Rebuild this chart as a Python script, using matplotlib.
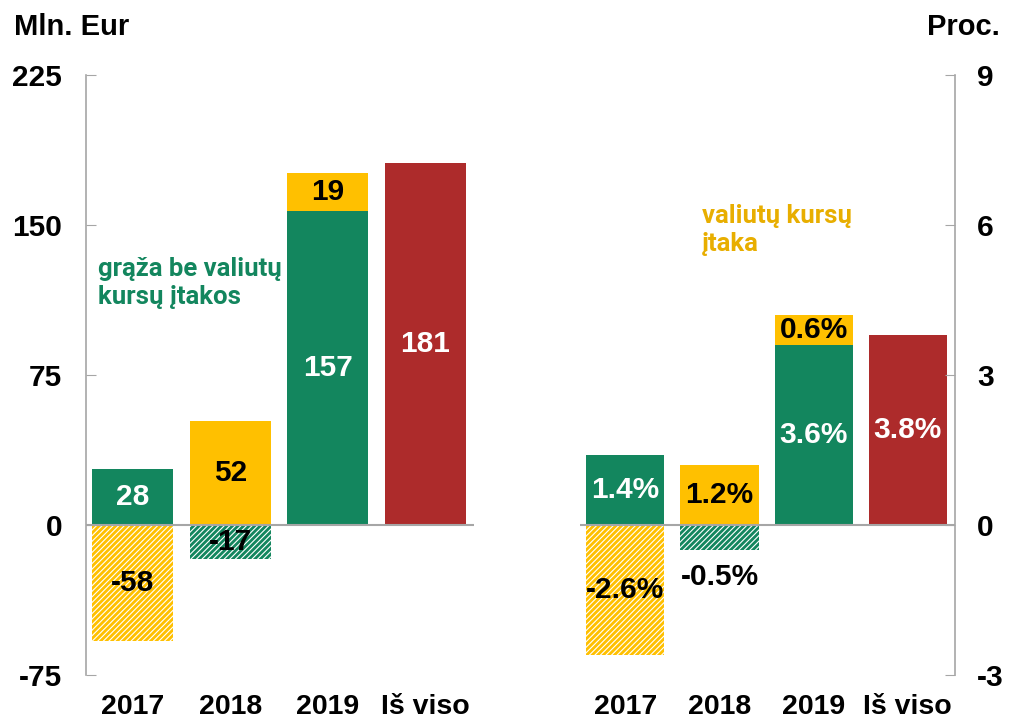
import numpy as np
import matplotlib.pyplot as plt

years = ['2017', '2018', '2019', 'Iš viso']

# Mln. Eur
eur_excl_fx = [28, -17, 157]
eur_fx = [-58, 52, 19]
eur_total = 181

# Proc.
pct_excl_fx = [1.4, -0.5, 3.6]
pct_fx = [-2.6, 1.2, 0.6]
pct_total = 3.8

green = '#13865E'
yellow = '#FFC000'
red = '#AD2B2B'
note_yellow = '#E8AE00'
spine_col = '#A6A6A6'

plt.rcParams['font.family'] = ['Liberation Sans', 'DejaVu Sans']
plt.rcParams['font.weight'] = 'bold'
plt.rcParams['axes.unicode_minus'] = False
plt.rcParams['hatch.linewidth'] = 0.8

fig = plt.figure(figsize=(10.1, 7.23), dpi=100)
ax1 = fig.add_axes([0.0851, 0.0664, 0.3842, 0.8299])
ax2 = fig.add_axes([0.5743, 0.0664, 0.3712, 0.8299])


def draw(ax, excl, fx, total, fmt, small):
    w = 0.83
    for i in range(3):
        pos, neg = 0, 0
        for v, col in ((excl[i], green), (fx[i], yellow)):
            if v >= 0:
                ax.bar(i, v, w, bottom=pos, color=col, linewidth=0)
                c = 'white' if col == green else 'black'
                ax.text(i, pos + v / 2, fmt(v), ha='center', va='center',
                        color=c, fontsize=21.5, fontweight='bold')
                pos += v
            else:
                ax.bar(i, v, w, bottom=neg, color=col, edgecolor='white',
                       hatch='//////', linewidth=0)
                y = neg + v / 2
                if abs(v) < small:
                    y = neg + v - small
                ax.text(i, y, fmt(v), ha='center', va='center',
                        color='black', fontsize=21.5, fontweight='bold')
                neg += v
    ax.bar(3, total, w, color=red, linewidth=0)
    ax.text(3, total / 2, fmt(total), ha='center', va='center',
            color='white', fontsize=21.5, fontweight='bold')
    ax.axhline(0, color=spine_col, lw=1.5, zorder=3)
    ax.set_xlim(-0.48, 3.5)
    ax.set_xticks(range(4))
    ax.set_xticklabels(years, fontsize=20.5, fontweight='bold')
    ax.tick_params(axis='x', length=0, pad=14)
    for s in ('top', 'bottom', 'left', 'right'):
        ax.spines[s].set_visible(False)


draw(ax1, eur_excl_fx, eur_fx, eur_total, lambda v: f'{v:.0f}', 0)
draw(ax2, pct_excl_fx, pct_fx, pct_total, lambda v: f'{v:.1f}%', 0.55)

ax1.set_ylim(-75, 225)
ax1.set_yticks([-75, 0, 75, 150, 225])
ax1.spines['left'].set_visible(True)
ax1.spines['left'].set_color(spine_col)
ax1.spines['left'].set_linewidth(1.2)
ax1.tick_params(axis='y', direction='in', length=7, color=spine_col,
                labelsize=21.5, pad=17)

ax2.set_ylim(-3, 9)
ax2.set_yticks([-3, 0, 3, 6, 9])
ax2.yaxis.tick_right()
ax2.spines['right'].set_visible(True)
ax2.spines['right'].set_color(spine_col)
ax2.spines['right'].set_linewidth(1.2)
ax2.tick_params(axis='y', direction='in', length=7, color=spine_col,
                labelsize=21.5, pad=16)

ax1.text(-0.357, 121, 'grąža be valiutų\nkursų įtakos', color=green,
         fontsize=18.5, fontweight='bold', ha='left', va='center',
         linespacing=1.2, family=['Roboto', 'Liberation Sans'])
ax2.text(0.816, 5.9, 'valiutų kursų\nįtaka', color=note_yellow,
         fontsize=18.5, fontweight='bold', ha='left', va='center',
         linespacing=1.2, family=['Roboto', 'Liberation Sans'])

fig.text(0.014, 0.963, 'Mln. Eur', fontsize=21, fontweight='bold',
         ha='left', va='center')
fig.text(0.99, 0.963, 'Proc.', fontsize=21, fontweight='bold',
         ha='right', va='center')

fig.savefig('out.png', dpi=100)
